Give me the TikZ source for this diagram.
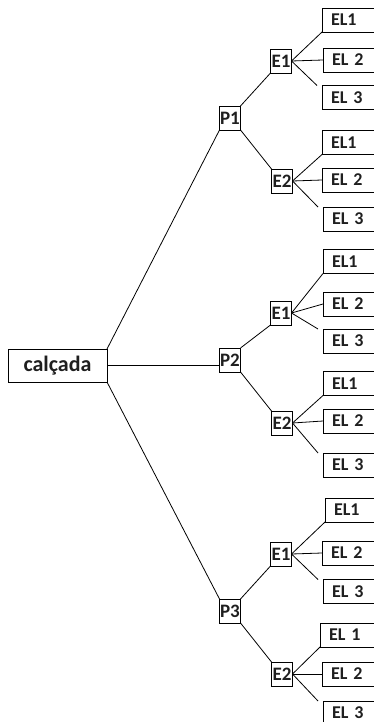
\documentclass[tikz,border=0pt]{standalone}
\usepackage{fontspec}
\setmainfont{Carlito}
\usepackage{tikz}
\colorlet{ink}{black!88}
\newcommand{\rootfont}{\fontsize{22}{26}\selectfont\bfseries}
\newcommand{\midfont}{\fontsize{19}{22}\selectfont\bfseries}
\newcommand{\leaffont}{\fontsize{18}{21}\selectfont\bfseries}

\begin{document}
\begin{tikzpicture}[x=1pt,y=-1pt,
    any/.style={draw=black,line width=0.9pt,text=ink,outer sep=0pt},
    root/.style={any,minimum width=99pt,minimum height=33pt,font=\rootfont},
    part/.style={any,minimum width=21pt,minimum height=24pt,inner sep=0.5pt,font=\midfont},
    leaf/.style={any,anchor=west,minimum height=24pt,text width=42pt,%
                 inner xsep=9pt,inner ysep=1pt,align=left,font=\leaffont},
    link/.style={line width=0.8pt}
]
\useasboundingbox (0,0) rectangle (374,722);

\node[root] (calc) at (57.5,365.5) {calçada};

\node[part] (P1) at (230,118) {P1};
\node[part] (P2) at (230,360) {P2};
\node[part] (P3) at (230,611) {P3};

\node[part] (P1-E1) at (281,61)  {E1};
\node[part] (P1-E2) at (282,181) {E2};
\node[part] (P2-E1) at (281,313) {E1};
\node[part] (P2-E2) at (282,423) {E2};
\node[part] (P3-E1) at (281,554) {E1};
\node[part] (P3-E2) at (282,674) {E2};

\node[leaf] (P1-E1-1) at (322,20)    {EL1};
\node[leaf] (P1-E1-2) at (323,60)    {EL 2};
\node[leaf] (P1-E1-3) at (322,97.5)  {EL 3};
\node[leaf] (P1-E2-1) at (322,142.5) {EL1};
\node[leaf] (P1-E2-2) at (322,180)   {EL 2};
\node[leaf] (P1-E2-3) at (323,219)   {EL 3};

\node[leaf] (P2-E1-1) at (323,261.5) {EL1};
\node[leaf] (P2-E1-2) at (323,304)   {EL 2};
\node[leaf] (P2-E1-3) at (323,341)   {EL 3};
\node[leaf] (P2-E2-1) at (323,383.5) {EL1};
\node[leaf] (P2-E2-2) at (323,421)   {EL 2};
\node[leaf] (P2-E2-3) at (323,465)   {EL 3};

\node[leaf] (P3-E1-1) at (325,510)   {EL1};
\node[leaf] (P3-E1-2) at (322,553)   {EL 2};
\node[leaf] (P3-E1-3) at (323,591.5) {EL 3};
\node[leaf] (P3-E2-1) at (320,635)   {EL 1};
\node[leaf] (P3-E2-2) at (322,674)   {EL 2};
\node[leaf] (P3-E2-3) at (323,713)   {EL 3};

% trunk
\draw[link] (calc.north east) -- (P1.south west);
\draw[link] (calc.east) -- (calc.east -| P2.west);
\draw[link] (calc.south east) -- (P3.north west);

% branches
\foreach \p in {P1,P2,P3} {
  \draw[link] (\p.north east) -- (\p-E1.south west);
  \draw[link] (\p.south east) -- (\p-E2.north west);
  \foreach \e in {E1,E2} {
    \draw[link] (\p-\e.east) -- (\p-\e-1.south west);
    \draw[link] (\p-\e.east) -- (\p-\e-2.west);
    \draw[link] (\p-\e.east) -- ([xshift=-5pt]\p-\e-3.north west);
  }
}
\end{tikzpicture}
\end{document}
